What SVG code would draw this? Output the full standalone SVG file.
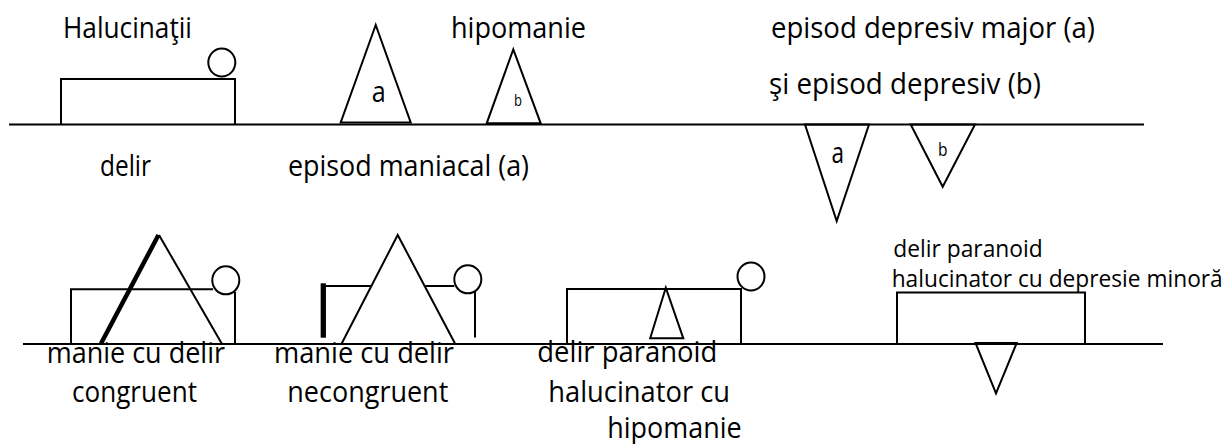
<svg xmlns="http://www.w3.org/2000/svg" width="1230" height="444" viewBox="0 0 1230 444">
<style>
.bg{fill:#fff}
.ln{stroke:#000;stroke-width:1.8;fill:none}
.sh{stroke:#000;stroke-width:2;fill:none;stroke-linejoin:miter}
.thick{stroke:#000;stroke-width:4.5;fill:none}
.t{font-family:"Open Sans","Noto Sans","Liberation Sans",sans-serif;font-size:29px;fill:#000}
.ts{font-family:"Open Sans","Noto Sans","Liberation Sans",sans-serif;font-size:23px;fill:#000}
</style>
<rect class="bg" x="0" y="0" width="1230" height="444"/>

<g id="baselines">
  <line class="ln" x1="9" y1="124.5" x2="1144" y2="124.5"/>
  <line class="ln" x1="23" y1="344" x2="1163" y2="344"/>
</g>

<g id="halucinatii-delir">
  <text class="t" x="63" y="37.7" textLength="129" lengthAdjust="spacingAndGlyphs">Halucinaţii</text>
  <polyline class="sh" points="61,124.5 61,79 235,79 235,124.5"/>
  <ellipse class="sh" cx="221.8" cy="62.5" rx="13.5" ry="14"/>
  <text class="t" x="100" y="176" textLength="51" lengthAdjust="spacingAndGlyphs">delir</text>
</g>

<g id="episod-maniacal">
  <polygon class="sh" points="375.7,25 340.7,122.5 410.7,122.5"/>
  <text class="t" x="371.7" y="101.7" textLength="14" lengthAdjust="spacingAndGlyphs">a</text>
  <text class="t" x="288" y="176" textLength="241" lengthAdjust="spacingAndGlyphs">episod maniacal (a)</text>
</g>

<g id="hipomanie">
  <polygon class="sh" points="513.3,49.3 486.7,123.3 540.7,123.3"/>
  <text class="t" x="514" y="105.7" style="font-size:16px" textLength="8" lengthAdjust="spacingAndGlyphs">b</text>
  <text class="t" x="451" y="38" textLength="135" lengthAdjust="spacingAndGlyphs">hipomanie</text>
</g>

<g id="episod-depresiv">
  <text class="t" x="771" y="38.3" textLength="324" lengthAdjust="spacingAndGlyphs">episod depresiv major (a)</text>
  <text class="t" x="769" y="94" textLength="272" lengthAdjust="spacingAndGlyphs">şi episod depresiv (b)</text>
  <polygon class="sh" points="805,124.5 869,124.5 836.7,221"/>
  <text class="t" x="831.5" y="162.7" textLength="12.5" lengthAdjust="spacingAndGlyphs">a</text>
  <polygon class="sh" points="910.7,124.5 975,124.5 942.7,186.7"/>
  <text class="t" x="938" y="156" style="font-size:19px" textLength="9.5" lengthAdjust="spacingAndGlyphs">b</text>
</g>

<g id="manie-congruent">
  <polyline class="sh" points="71,344 71,289.3 213,289.3"/>
  <line class="sh" x1="235" y1="292" x2="235" y2="344"/>
  <ellipse class="sh" cx="225.8" cy="280.3" rx="13.5" ry="14"/>
  <line class="sh" x1="159" y1="235" x2="222" y2="344"/>
  <line class="thick" x1="158.5" y1="235" x2="101" y2="343.5"/>
  <text class="t" x="46.7" y="363.3" textLength="178.3" lengthAdjust="spacingAndGlyphs">manie cu delir</text>
  <text class="t" x="72" y="401.7" textLength="125" lengthAdjust="spacingAndGlyphs">congruent</text>
</g>

<g id="manie-necongruent">
  <line class="ln" x1="323.3" y1="283.3" x2="323.3" y2="337.7" style="stroke-width:5.3"/>
  <line class="sh" x1="326" y1="286" x2="371.3" y2="286"/>
  <line class="sh" x1="424.7" y1="286" x2="454.3" y2="286"/>
  <polyline class="sh" points="341.7,343.5 397.7,235 455,343.5"/>
  <ellipse class="sh" cx="467.8" cy="279.3" rx="13.5" ry="14"/>
  <line class="sh" x1="475" y1="292" x2="475" y2="337.5"/>
  <text class="t" x="274" y="363.3" textLength="180" lengthAdjust="spacingAndGlyphs">manie cu delir</text>
  <text class="t" x="287.3" y="401.7" textLength="161" lengthAdjust="spacingAndGlyphs">necongruent</text>
</g>

<g id="delir-hipomanie">
  <polyline class="sh" points="567,344 567,289 741,289 741,344"/>
  <ellipse class="sh" cx="751" cy="276.5" rx="13.5" ry="14"/>
  <polygon class="sh" points="665.8,287.7 650.2,338.3 683.3,338.3"/>
  <text class="t" x="537.3" y="362.3" textLength="180" lengthAdjust="spacingAndGlyphs">delir paranoid</text>
  <text class="t" x="548.3" y="401.7" textLength="181.7" lengthAdjust="spacingAndGlyphs">halucinator cu</text>
  <text class="t" x="607.3" y="438" textLength="134.4" lengthAdjust="spacingAndGlyphs">hipomanie</text>
</g>

<g id="delir-depresie-minora">
  <text class="ts" x="893.3" y="256.7" textLength="149.4" lengthAdjust="spacingAndGlyphs">delir paranoid</text>
  <text class="ts" x="891.7" y="287" textLength="331" lengthAdjust="spacingAndGlyphs">halucinator cu depresie minoră</text>
  <polyline class="sh" points="897,344 897,292.5 1085,292.5 1085,344"/>
  <polygon class="sh" points="975.5,343 1016.7,343 996,393.3"/>
</g>
</svg>
